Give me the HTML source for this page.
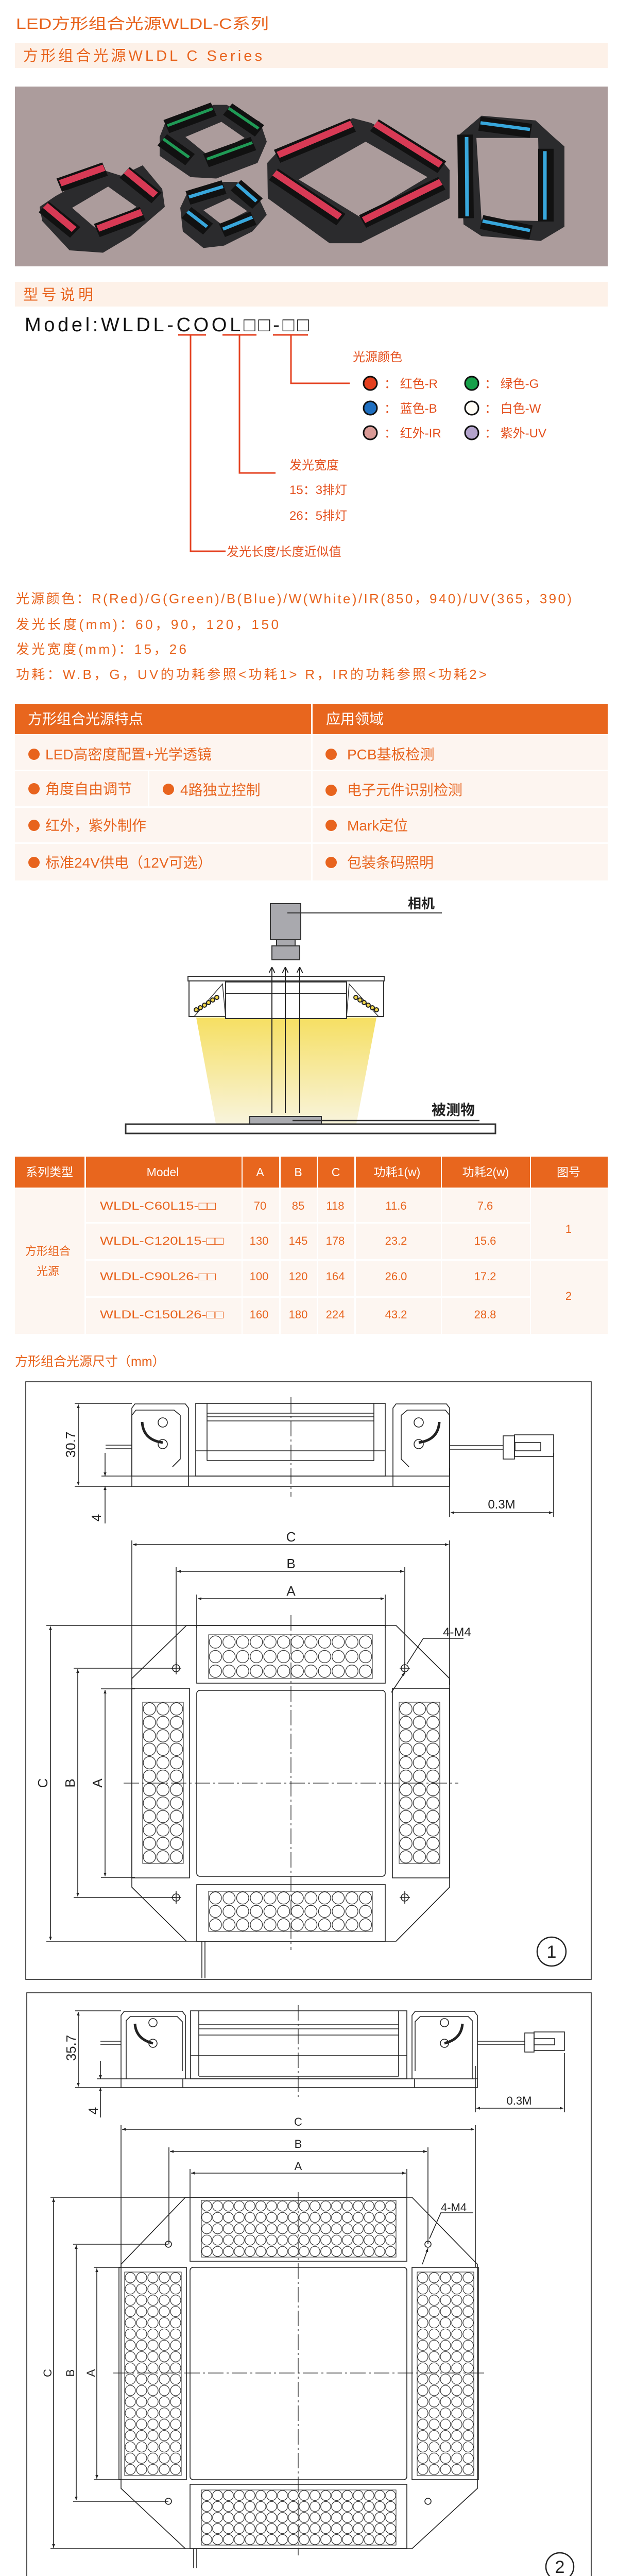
<!DOCTYPE html>
<html><head><meta charset="utf-8">
<style>
html,body{margin:0;padding:0;background:#fff;width:1200px;height:5067px;overflow:hidden;}
svg{display:block;}
text{font-family:"Liberation Sans","Noto Sans CJK SC",sans-serif;}
</style></head><body>
<svg width="1200" height="5067" viewBox="0 0 1200 5067" xmlns="http://www.w3.org/2000/svg">
<defs>
<marker id="ar" viewBox="0 0 10 10" refX="10" refY="5" markerWidth="9" markerHeight="7" orient="auto-start-reverse" markerUnits="userSpaceOnUse"><path d="M0,1 L10,5 L0,9 z" fill="#222"/></marker>
<marker id="ao" viewBox="0 0 10 10" refX="10" refY="5" markerWidth="12" markerHeight="12" orient="auto" markerUnits="userSpaceOnUse"><path d="M0,0 L10,5 L0,10" fill="none" stroke="#222" stroke-width="1.5"/></marker>
<linearGradient id="cone" x1="0" y1="0" x2="0" y2="1"><stop offset="0" stop-color="#f6df62"/><stop offset="1" stop-color="#f8f4dc"/></linearGradient>
<pattern id="g1h" x="405" y="3173" width="26.5" height="28.3" patternUnits="userSpaceOnUse"><circle cx="13.25" cy="14.15" r="12" fill="#fff" stroke="#333" stroke-width="1.3"/></pattern>
<pattern id="g1hb" x="405" y="3671" width="26.5" height="26" patternUnits="userSpaceOnUse"><circle cx="13.25" cy="13" r="11.8" fill="#fff" stroke="#333" stroke-width="1.3"/></pattern>
<pattern id="g1v" x="277" y="3304" width="26.3" height="26.1" patternUnits="userSpaceOnUse"><circle cx="13.15" cy="13.05" r="12" fill="#fff" stroke="#333" stroke-width="1.3"/></pattern>
<pattern id="g1vr" x="775" y="3304" width="26.3" height="26.1" patternUnits="userSpaceOnUse"><circle cx="13.15" cy="13.05" r="12" fill="#fff" stroke="#333" stroke-width="1.3"/></pattern>
<pattern id="g2h" x="391" y="4271" width="21" height="22" patternUnits="userSpaceOnUse"><circle cx="10.5" cy="11" r="9.8" fill="#fff" stroke="#333" stroke-width="1.2"/></pattern>
<pattern id="g2hb" x="391" y="4833" width="21" height="21.4" patternUnits="userSpaceOnUse"><circle cx="10.5" cy="10.7" r="9.8" fill="#fff" stroke="#333" stroke-width="1.2"/></pattern>
<pattern id="g2v" x="242" y="4410" width="22" height="21.9" patternUnits="userSpaceOnUse"><circle cx="11" cy="10.95" r="10" fill="#fff" stroke="#333" stroke-width="1.2"/></pattern>
<pattern id="g2vr" x="810" y="4410" width="22" height="21.9" patternUnits="userSpaceOnUse"><circle cx="11" cy="10.95" r="10" fill="#fff" stroke="#333" stroke-width="1.2"/></pattern>
</defs>

<!-- Titles -->
<text x="31" y="56" font-size="29" fill="#e8641e" textLength="491" lengthAdjust="spacingAndGlyphs">LED方形组合光源WLDL-C系列</text>
<rect x="29" y="83" width="1151" height="49" fill="#fdf1e8"/>
<text x="45" y="118" font-size="29" fill="#e8641e" textLength="464" lengthAdjust="spacing">方形组合光源WLDL C Series</text>

<!-- Photo -->
<rect x="29" y="168" width="1151" height="349" fill="#ac9c9c"/>
<g transform="scale(1,0.9168)">
<g fill="#2b2b2d">
<polygon points="77,438 108,415 200,360 235,372 277,350 315,400 320,438 254,500 200,535 135,530 82,468"/>
<polygon points="310,290 320,262 415,222 440,222 505,258 518,300 500,345 420,378 370,375 310,330"/>
<polygon points="350,440 365,405 435,385 460,385 505,425 518,455 490,490 435,520 395,525 355,490"/>
<polygon points="519,345 540,320 685,250 720,260 850,330 873,360 873,420 700,515 640,515 520,420"/>
<polygon points="892,285 935,245 1040,255 1075,290 1096,310 1096,480 1050,510 935,500 900,475"/>
</g>
<g fill="#ac9c9c">
<polygon points="140,440 210,395 265,438 193,490"/>
<polygon points="360,290 430,258 475,292 405,330"/>
<polygon points="395,445 445,420 480,447 430,475"/>
<polygon points="580,380 710,300 830,375 700,460"/>
<polygon points="925,292 1045,292 1048,468 935,465"/>
</g>
<g stroke-linecap="butt" fill="none">
<g stroke="#111" stroke-width="30">
<line x1="115" y1="392" x2="204" y2="358"/><line x1="242" y1="365" x2="304" y2="419"/><line x1="85" y1="438" x2="146" y2="492"/><line x1="188" y1="488" x2="277" y2="452"/>
<line x1="323" y1="268" x2="415" y2="231"/><line x1="442" y1="231" x2="504" y2="277"/><line x1="315" y1="296" x2="369" y2="338"/><line x1="400" y1="340" x2="492" y2="304"/>
<line x1="365" y1="419" x2="435" y2="396"/><line x1="458" y1="392" x2="500" y2="431"/><line x1="362" y1="450" x2="404" y2="485"/><line x1="431" y1="488" x2="492" y2="462"/>
<line x1="538" y1="331" x2="685" y2="265"/><line x1="727" y1="265" x2="858" y2="354"/><line x1="531" y1="369" x2="662" y2="465"/><line x1="704" y1="469" x2="858" y2="388"/>
<line x1="931" y1="262" x2="1031" y2="277"/><line x1="903" y1="285" x2="905" y2="462"/><line x1="1060" y1="315" x2="1060" y2="469"/><line x1="935" y1="470" x2="1031" y2="492"/>
</g>
<g stroke="#d83a55" stroke-width="14">
<line x1="117" y1="388" x2="202" y2="355"/><line x1="245" y1="362" x2="302" y2="413"/><line x1="88" y1="435" x2="144" y2="486"/><line x1="190" y1="484" x2="275" y2="449"/>
<line x1="540" y1="328" x2="683" y2="262"/><line x1="729" y1="262" x2="856" y2="349"/><line x1="533" y1="366" x2="660" y2="459"/><line x1="706" y1="466" x2="856" y2="385"/>
</g>
<g stroke="#1f9a55" stroke-width="6">
<line x1="325" y1="266" x2="413" y2="230"/><line x1="444" y1="229" x2="502" y2="272"/><line x1="317" y1="294" x2="367" y2="333"/><line x1="402" y1="337" x2="490" y2="302"/>
</g>
<g stroke="#38a7dc" stroke-width="7">
<line x1="367" y1="417" x2="433" y2="395"/><line x1="460" y1="390" x2="498" y2="426"/><line x1="364" y1="448" x2="402" y2="480"/><line x1="433" y1="485" x2="490" y2="460"/>
<line x1="933" y1="260" x2="1029" y2="274"/><line x1="906" y1="290" x2="907" y2="458"/><line x1="1058" y1="320" x2="1058" y2="465"/><line x1="937" y1="468" x2="1029" y2="488"/>
</g>
</g>
</g>

<!-- 型号说明 -->
<rect x="29" y="547" width="1151" height="48" fill="#fdf1e8"/>
<text x="45" y="582" font-size="29" fill="#e8641e" textLength="136" lengthAdjust="spacing">型号说明</text>
<text x="48" y="643" font-size="38" fill="#111" textLength="552" lengthAdjust="spacing">Model:WLDL-COOL□□-□□</text>
<g stroke="#e4401f" stroke-width="3" fill="none">
<line x1="346" y1="650" x2="400" y2="650"/><line x1="432" y1="650" x2="498" y2="650"/><line x1="530" y1="650" x2="598" y2="650"/>
<polyline points="370,650 370,1070 438,1070"/>
<polyline points="465,650 465,918 535,918"/>
<polyline points="565,650 565,744 679,744"/>
</g>
<g font-size="24" fill="#e4501e">
<text x="685" y="701">光源颜色</text>
<text x="746" y="753">：  红色-R</text><text x="941" y="753">：  绿色-G</text>
<text x="746" y="801">：  蓝色-B</text><text x="941" y="801">：  白色-W</text>
<text x="746" y="849">：  红外-IR</text><text x="941" y="849">：  紫外-UV</text>
<text x="562" y="911">发光宽度</text>
<text x="562" y="959">15：3排灯</text>
<text x="562" y="1009">26：5排灯</text>
<text x="440" y="1079">发光长度/长度近似值</text>
</g>
<g stroke="#111" stroke-width="3">
<circle cx="719" cy="744" r="13" fill="#e4401f"/><circle cx="916" cy="744" r="13" fill="#17a04a"/>
<circle cx="719" cy="792" r="13" fill="#1f6fc0"/><circle cx="916" cy="792" r="13" fill="#fffdf6"/>
<circle cx="719" cy="840" r="13" fill="#d99a96"/><circle cx="916" cy="840" r="13" fill="#b3a3cc"/>
</g>

<!-- specs -->
<g font-size="26" fill="#e8641e">
<text x="31" y="1171" textLength="1079" lengthAdjust="spacing">光源颜色：R(Red)/G(Green)/B(Blue)/W(White)/IR(850，940)/UV(365，390)</text>
<text x="31" y="1221" textLength="510" lengthAdjust="spacing">发光长度(mm)：60，90，120，150</text>
<text x="31" y="1269" textLength="331" lengthAdjust="spacing">发光宽度(mm)：15，26</text>
<text x="31" y="1318" textLength="914" lengthAdjust="spacing">功耗：W.B，G，UV的功耗参照&lt;功耗1&gt;   R，IR的功耗参照&lt;功耗2&gt;</text>
</g>

<!-- features table -->
<rect x="29" y="1366" width="575" height="59" fill="#e8661e"/>
<rect x="607" y="1366" width="573" height="59" fill="#e8661e"/>
<text x="54" y="1405" font-size="28" fill="#fff">方形组合光源特点</text>
<text x="633" y="1405" font-size="28" fill="#fff">应用领域</text>
<g fill="#fdf5f0">
<rect x="29" y="1427" width="575" height="67"/><rect x="607" y="1427" width="573" height="67"/>
<rect x="29" y="1497" width="258" height="68"/><rect x="290" y="1497" width="314" height="68"/><rect x="607" y="1497" width="573" height="68"/>
<rect x="29" y="1568" width="575" height="67"/><rect x="607" y="1568" width="573" height="67"/>
<rect x="29" y="1638" width="575" height="71"/><rect x="607" y="1638" width="573" height="71"/>
</g>
<g fill="#e8641e">
<circle cx="66" cy="1464" r="11"/><circle cx="643" cy="1464" r="11"/>
<circle cx="66" cy="1531" r="11"/><circle cx="327" cy="1532" r="11"/><circle cx="643" cy="1534" r="11"/>
<circle cx="66" cy="1602" r="11"/><circle cx="643" cy="1602" r="11"/>
<circle cx="66" cy="1674" r="11"/><circle cx="643" cy="1674" r="11"/>
</g>
<g font-size="28" fill="#e8641e">
<text x="88" y="1474">LED高密度配置+光学透镜</text><text x="674" y="1474">PCB基板检测</text>
<text x="88" y="1541">角度自由调节</text><text x="350" y="1543">4路独立控制</text><text x="674" y="1543">电子元件识别检测</text>
<text x="88" y="1612">红外，紫外制作</text><text x="674" y="1612">Mark定位</text>
<text x="88" y="1684">标准24V供电（12V可选）</text><text x="674" y="1684">包装条码照明</text>
</g>

<!-- camera diagram -->
<polygon points="381,1975 731,1975 692,2181 419,2181" fill="url(#cone)"/>
<rect x="525" y="1754" width="59" height="70" fill="#a9a9ae" stroke="#333" stroke-width="2"/>
<rect x="537" y="1824" width="36" height="12" fill="#a9a9ae" stroke="#333" stroke-width="2"/>
<rect x="528" y="1836" width="54" height="27" fill="#a9a9ae" stroke="#333" stroke-width="2"/>
<line x1="558" y1="1772" x2="858" y2="1772" stroke="#333" stroke-width="2"/>
<text x="792" y="1763" font-size="26" font-weight="bold" fill="#222">相机</text>
<rect x="365" y="1895" width="381" height="9" fill="#fff" stroke="#333" stroke-width="2"/>
<rect x="367" y="1904" width="378" height="69" fill="#fff" stroke="#333" stroke-width="2"/>
<rect x="438" y="1906" width="235" height="71" fill="#fff" stroke="#333" stroke-width="2"/>
<line x1="438" y1="1928" x2="673" y2="1928" stroke="#333" stroke-width="2"/>
<polygon points="377,1973 438,1973 432,1910" fill="#fff" stroke="#333" stroke-width="1.5"/>
<polygon points="673,1973 735,1973 678,1910" fill="#fff" stroke="#333" stroke-width="1.5"/>
<g fill="#f3d84a" stroke="#222" stroke-width="2">
<circle cx="381" cy="1960" r="4"/><circle cx="389" cy="1956" r="4"/><circle cx="397" cy="1951" r="4"/><circle cx="405" cy="1946" r="4"/><circle cx="413" cy="1941" r="4"/><circle cx="421" cy="1936" r="4"/>
<circle cx="731" cy="1960" r="4"/><circle cx="723" cy="1956" r="4"/><circle cx="715" cy="1951" r="4"/><circle cx="707" cy="1946" r="4"/><circle cx="699" cy="1941" r="4"/><circle cx="691" cy="1936" r="4"/>
</g>
<g stroke="#222" stroke-width="2" fill="none">
<line x1="528" y1="2160" x2="528" y2="1877" marker-end="url(#ao)"/>
<line x1="554" y1="2160" x2="554" y2="1877" marker-end="url(#ao)"/>
<line x1="582" y1="2160" x2="582" y2="1877" marker-end="url(#ao)"/>
</g>
<rect x="485" y="2167" width="139" height="15" fill="#aaabb0" stroke="#333" stroke-width="2"/>
<rect x="244" y="2182" width="718" height="18" fill="#fff" stroke="#333" stroke-width="3"/>
<line x1="568" y1="2175" x2="931" y2="2175" stroke="#333" stroke-width="2.5"/>
<text x="838" y="2164" font-size="28" font-weight="bold" fill="#222">被测物</text>

<!-- model table -->
<g fill="#e8661e">
<rect x="29" y="2245" width="135" height="60"/><rect x="167" y="2245" width="302" height="60"/>
<rect x="471" y="2245" width="71" height="60"/><rect x="545" y="2245" width="70" height="60"/>
<rect x="617" y="2245" width="71" height="60"/><rect x="691" y="2245" width="165" height="60"/>
<rect x="858" y="2245" width="171" height="60"/><rect x="1031" y="2245" width="149" height="60"/>
</g>
<g fill="#fdf6f1">
<rect x="29" y="2307" width="135" height="282"/>
<rect x="1031" y="2307" width="149" height="137"/><rect x="1031" y="2447" width="149" height="142"/>
<rect x="167" y="2307" width="302" height="65"/><rect x="471" y="2307" width="71" height="65"/><rect x="545" y="2307" width="70" height="65"/><rect x="617" y="2307" width="71" height="65"/><rect x="691" y="2307" width="165" height="65"/><rect x="858" y="2307" width="171" height="65"/>
<rect x="167" y="2375" width="302" height="69"/><rect x="471" y="2375" width="71" height="69"/><rect x="545" y="2375" width="70" height="69"/><rect x="617" y="2375" width="71" height="69"/><rect x="691" y="2375" width="165" height="69"/><rect x="858" y="2375" width="171" height="69"/>
<rect x="167" y="2447" width="302" height="69"/><rect x="471" y="2447" width="71" height="69"/><rect x="545" y="2447" width="70" height="69"/><rect x="617" y="2447" width="71" height="69"/><rect x="691" y="2447" width="165" height="69"/><rect x="858" y="2447" width="171" height="69"/>
<rect x="167" y="2519" width="302" height="70"/><rect x="471" y="2519" width="71" height="70"/><rect x="545" y="2519" width="70" height="70"/><rect x="617" y="2519" width="71" height="70"/><rect x="691" y="2519" width="165" height="70"/><rect x="858" y="2519" width="171" height="70"/>
</g>
<g font-size="23" fill="#fff" text-anchor="middle">
<text x="96" y="2283">系列类型</text>
<text x="316" y="2283">Model</text>
<text x="505" y="2283">A</text>
<text x="579" y="2283">B</text>
<text x="652" y="2283">C</text>
<text x="771" y="2283">功耗1(w)</text>
<text x="943" y="2283">功耗2(w)</text>
<text x="1104" y="2283">图号</text>
</g>
<g font-size="22" fill="#e8641e" text-anchor="middle">
<text x="93" y="2436">方形组合</text>
<text x="93" y="2475">光源</text>
<text x="1104" y="2393">1</text>
<text x="1104" y="2523">2</text>
</g>
<g font-size="22" fill="#e8641e">
<text x="194" y="2348" textLength="225" lengthAdjust="spacingAndGlyphs">WLDL-C60L15-□□</text>
<text x="194" y="2416" textLength="240" lengthAdjust="spacingAndGlyphs">WLDL-C120L15-□□</text>
<text x="194" y="2485" textLength="225" lengthAdjust="spacingAndGlyphs">WLDL-C90L26-□□</text>
<text x="194" y="2559" textLength="240" lengthAdjust="spacingAndGlyphs">WLDL-C150L26-□□</text>
</g>
<g font-size="22" fill="#e8641e" text-anchor="middle">
<text x="505" y="2348">70</text><text x="579" y="2348">85</text><text x="651" y="2348">118</text><text x="769" y="2348">11.6</text><text x="942" y="2348">7.6</text>
<text x="503" y="2416">130</text><text x="579" y="2416">145</text><text x="651" y="2416">178</text><text x="769" y="2416">23.2</text><text x="942" y="2416">15.6</text>
<text x="503" y="2485">100</text><text x="579" y="2485">120</text><text x="651" y="2485">164</text><text x="769" y="2485">26.0</text><text x="942" y="2485">17.2</text>
<text x="503" y="2559">160</text><text x="579" y="2559">180</text><text x="651" y="2559">224</text><text x="769" y="2559">43.2</text><text x="942" y="2559">28.8</text>
</g>

<text x="29" y="2651" font-size="25" fill="#e8641e">方形组合光源尺寸（mm）</text>

<!-- Drawing 1 -->
<g stroke="#222" stroke-width="1.6" fill="none">
<rect x="50" y="2682" width="1098" height="1160"/>
<line x1="145" y1="2724" x2="256" y2="2724"/><line x1="145" y1="2885" x2="256" y2="2885"/>
<line x1="152" y1="2726" x2="152" y2="2883" marker-start="url(#ar)" marker-end="url(#ar)"/>
<line x1="197" y1="2865" x2="256" y2="2865"/>
<line x1="204" y1="2820" x2="204" y2="2865" marker-end="url(#ar)"/>
<line x1="204" y1="2957" x2="204" y2="2885" marker-end="url(#ar)"/>
<path d="M256,2865 V2733 l6,-8 H360 l6,8 V2865"/>
<path d="M256,2865 V2747 l8,-10 H338 l12,10 V2832 l-15,15"/>
<path d="M873,2865 V2733 l-6,-8 H769 l-6,8 V2865"/>
<path d="M873,2865 V2747 l-8,-10 H791 l-12,10 V2832 l15,15"/>
<rect x="380" y="2724" width="368" height="141"/>
<line x1="402" y1="2724" x2="402" y2="2835"/><line x1="726" y1="2724" x2="726" y2="2835"/>
<line x1="402" y1="2743" x2="726" y2="2743"/><line x1="402" y1="2750" x2="726" y2="2750"/><line x1="402" y1="2758" x2="726" y2="2758"/>
<line x1="380" y1="2816" x2="748" y2="2816"/><line x1="402" y1="2835" x2="726" y2="2835"/>
<rect x="256" y="2865" width="617" height="20"/>
<line x1="366" y1="2865" x2="366" y2="2885"/><line x1="763" y1="2865" x2="763" y2="2885"/>
<path d="M276,2760 q2,35 40,40" stroke-width="5"/>
<path d="M853,2760 q-2,35 -40,40" stroke-width="5"/>
<circle cx="316" cy="2761" r="9"/><circle cx="316" cy="2803" r="9"/><circle cx="813" cy="2761" r="9"/><circle cx="813" cy="2803" r="9"/>
<line x1="205" y1="2805" x2="256" y2="2805"/><line x1="205" y1="2812" x2="256" y2="2812"/>
<line x1="873" y1="2806" x2="977" y2="2806"/><line x1="873" y1="2813" x2="977" y2="2813"/>
<rect x="977" y="2787" width="22" height="45"/><rect x="999" y="2785" width="76" height="42"/><rect x="1000" y="2800" width="50" height="16"/>
<line x1="873" y1="2850" x2="873" y2="2945"/><line x1="1075" y1="2820" x2="1075" y2="2945"/>
<line x1="875" y1="2936" x2="1073" y2="2936" marker-start="url(#ar)" marker-end="url(#ar)"/>
<line x1="565" y1="2712" x2="565" y2="2905" stroke-dasharray="30,6,4,6" stroke-width="1.3"/>
<line x1="256" y1="2990" x2="256" y2="3270"/><line x1="873" y1="2990" x2="873" y2="3270"/>
<line x1="258" y1="2998" x2="871" y2="2998" marker-start="url(#ar)" marker-end="url(#ar)"/>
<line x1="342" y1="3042" x2="342" y2="3238"/><line x1="786" y1="3042" x2="786" y2="3238"/>
<line x1="344" y1="3050" x2="784" y2="3050" marker-start="url(#ar)" marker-end="url(#ar)"/>
<line x1="382" y1="3095" x2="382" y2="3160"/><line x1="748" y1="3095" x2="748" y2="3160"/>
<line x1="384" y1="3103" x2="746" y2="3103" marker-start="url(#ar)" marker-end="url(#ar)"/>
<polygon points="362,3155 769,3155 873,3258 873,3663 769,3768 362,3768 256,3663 256,3258"/>
<rect x="382" y="3155" width="366" height="112"/>
<rect x="405" y="3173" width="318" height="85" fill="url(#g1h)" stroke-width="1"/>
<rect x="382" y="3658" width="366" height="110"/>
<rect x="405" y="3671" width="318" height="78" fill="url(#g1hb)" stroke-width="1"/>
<rect x="256" y="3277" width="112" height="368"/>
<rect x="277" y="3304" width="79" height="313" fill="url(#g1v)" stroke-width="1"/>
<rect x="762" y="3277" width="111" height="368"/>
<rect x="775" y="3304" width="79" height="313" fill="url(#g1vr)" stroke-width="1"/>
<rect x="382" y="3281" width="366" height="361" rx="6"/>
<line x1="565" y1="3135" x2="565" y2="3785" stroke-dasharray="30,6,4,6" stroke-width="1.3"/>
<line x1="240" y1="3461" x2="890" y2="3461" stroke-dasharray="30,6,4,6" stroke-width="1.3"/>
<line x1="90" y1="3155" x2="382" y2="3155"/><line x1="90" y1="3768" x2="362" y2="3768"/>
<line x1="98" y1="3157" x2="98" y2="3766" marker-start="url(#ar)" marker-end="url(#ar)"/>
<line x1="143" y1="3238" x2="342" y2="3238"/><line x1="143" y1="3683" x2="342" y2="3683"/>
<line x1="151" y1="3240" x2="151" y2="3681" marker-start="url(#ar)" marker-end="url(#ar)"/>
<line x1="196" y1="3278" x2="262" y2="3278"/><line x1="196" y1="3644" x2="262" y2="3644"/>
<line x1="204" y1="3280" x2="204" y2="3642" marker-start="url(#ar)" marker-end="url(#ar)"/>
<circle cx="342" cy="3238" r="7"/><circle cx="786" cy="3238" r="7"/><circle cx="342" cy="3683" r="7"/><circle cx="786" cy="3683" r="7"/>
<line x1="332" y1="3238" x2="352" y2="3238"/><line x1="342" y1="3226" x2="342" y2="3250"/>
<line x1="776" y1="3238" x2="796" y2="3238"/><line x1="786" y1="3226" x2="786" y2="3250"/>
<line x1="332" y1="3683" x2="352" y2="3683"/><line x1="342" y1="3671" x2="342" y2="3695"/>
<line x1="776" y1="3683" x2="796" y2="3683"/><line x1="786" y1="3671" x2="786" y2="3695"/>
<polyline points="900,3180 822,3180 790,3230" />
<line x1="760" y1="3285" x2="786" y2="3246" marker-end="url(#ar)"/>
<line x1="392" y1="3768" x2="392" y2="3840"/><line x1="398" y1="3768" x2="398" y2="3840"/>
<circle cx="1071" cy="3788" r="28" stroke-width="2.5"/>
</g>
<g font-size="26" fill="#222">
<text transform="translate(146,2804) rotate(-90)" text-anchor="middle">30.7</text>
<text transform="translate(196,2946) rotate(-90)" text-anchor="middle">4</text>
<text x="974" y="2928" text-anchor="middle" font-size="24">0.3M</text>
<text x="565" y="2992" text-anchor="middle">C</text>
<text x="565" y="3044" text-anchor="middle">B</text>
<text x="565" y="3097" text-anchor="middle">A</text>
<text x="860" y="3176" font-size="24">4-M4</text>
<text transform="translate(92,3461) rotate(-90)" text-anchor="middle">C</text>
<text transform="translate(145,3461) rotate(-90)" text-anchor="middle">B</text>
<text transform="translate(198,3461) rotate(-90)" text-anchor="middle">A</text>
<text x="1071" y="3800" text-anchor="middle" font-size="34">1</text>
</g>

<!-- Drawing 2 -->
<g stroke="#222" stroke-width="1.6" fill="none">
<rect x="52" y="3868" width="1096" height="1159"/>
<line x1="67" y1="5015" x2="1120" y2="5015" stroke="#ccc" stroke-width="2"/>
<line x1="146" y1="3903" x2="235" y2="3903"/><line x1="146" y1="4052" x2="235" y2="4052"/>
<line x1="152" y1="3905" x2="152" y2="4050" marker-start="url(#ar)" marker-end="url(#ar)"/>
<line x1="188" y1="4035" x2="235" y2="4035"/>
<line x1="195" y1="4000" x2="195" y2="4035" marker-end="url(#ar)"/>
<line x1="195" y1="4110" x2="195" y2="4052" marker-end="url(#ar)"/>
<path d="M235,4035 V3912 l6,-8 H354 l6,8 V4035"/>
<path d="M245,4035 V3922 l8,-8 H344 l10,10 V4020"/>
<path d="M927,4035 V3912 l-6,-8 H806 l-6,8 V4035"/>
<path d="M917,4035 V3922 l-8,-8 H816 l-10,10 V4020"/>
<rect x="370" y="3903" width="420" height="132"/>
<line x1="386" y1="3903" x2="386" y2="4030"/><line x1="774" y1="3903" x2="774" y2="4030"/>
<line x1="386" y1="3930" x2="774" y2="3930"/><line x1="386" y1="3938" x2="774" y2="3938"/><line x1="386" y1="3950" x2="774" y2="3950"/>
<line x1="370" y1="3990" x2="790" y2="3990"/><line x1="386" y1="4030" x2="774" y2="4030"/>
<rect x="235" y="4035" width="692" height="17"/>
<line x1="355" y1="4035" x2="355" y2="4052"/><line x1="805" y1="4035" x2="805" y2="4052"/>
<path d="M262,3928 q2,30 35,38" stroke-width="5"/>
<path d="M898,3928 q-2,30 -35,38" stroke-width="5"/>
<circle cx="297" cy="3926" r="8"/><circle cx="297" cy="3966" r="8"/><circle cx="863" cy="3926" r="8"/><circle cx="863" cy="3966" r="8"/>
<line x1="195" y1="3962" x2="235" y2="3962"/><line x1="195" y1="3968" x2="235" y2="3968"/>
<line x1="927" y1="3962" x2="1019" y2="3962"/><line x1="927" y1="3968" x2="1019" y2="3968"/>
<rect x="1019" y="3946" width="18" height="37"/><rect x="1037" y="3944" width="59" height="36"/><rect x="1037" y="3957" width="40" height="12"/>
<line x1="923" y1="4010" x2="923" y2="4100"/><line x1="1096" y1="3985" x2="1096" y2="4100"/>
<line x1="925" y1="4092" x2="1094" y2="4092" marker-start="url(#ar)" marker-end="url(#ar)"/>
<line x1="579" y1="3892" x2="579" y2="4070" stroke-dasharray="30,6,4,6" stroke-width="1.3"/>
<line x1="235" y1="4125" x2="235" y2="4400"/><line x1="923" y1="4125" x2="923" y2="4400"/>
<line x1="237" y1="4133" x2="921" y2="4133" marker-start="url(#ar)" marker-end="url(#ar)"/>
<line x1="328" y1="4168" x2="328" y2="4356"/><line x1="831" y1="4168" x2="831" y2="4356"/>
<line x1="330" y1="4176" x2="829" y2="4176" marker-start="url(#ar)" marker-end="url(#ar)"/>
<line x1="369" y1="4210" x2="369" y2="4265"/><line x1="790" y1="4210" x2="790" y2="4265"/>
<line x1="371" y1="4218" x2="788" y2="4218" marker-start="url(#ar)" marker-end="url(#ar)"/>
<polygon points="360,4265 800,4265 927,4395 927,4830 800,4947 360,4947 235,4830 235,4395"/>
<rect x="369" y="4265" width="421" height="124"/>
<rect x="391" y="4271" width="378" height="110" fill="url(#g2h)" stroke-width="1"/>
<rect x="369" y="4822" width="421" height="125"/>
<rect x="391" y="4833" width="378" height="107" fill="url(#g2hb)" stroke-width="1"/>
<rect x="231" y="4401" width="131" height="412"/>
<rect x="242" y="4410" width="110" height="395" fill="url(#g2v)" stroke-width="1"/>
<rect x="800" y="4401" width="129" height="412"/>
<rect x="810" y="4410" width="110" height="395" fill="url(#g2vr)" stroke-width="1"/>
<rect x="369" y="4401" width="421" height="412" rx="6"/>
<line x1="579" y1="4255" x2="579" y2="4960" stroke-dasharray="30,6,4,6" stroke-width="1.3"/>
<line x1="220" y1="4606" x2="940" y2="4606" stroke-dasharray="30,6,4,6" stroke-width="1.3"/>
<line x1="98" y1="4265" x2="369" y2="4265"/><line x1="98" y1="4947" x2="360" y2="4947"/>
<line x1="104" y1="4267" x2="104" y2="4945" marker-start="url(#ar)" marker-end="url(#ar)"/>
<line x1="142" y1="4356" x2="327" y2="4356"/><line x1="142" y1="4855" x2="327" y2="4855"/>
<line x1="148" y1="4358" x2="148" y2="4853" marker-start="url(#ar)" marker-end="url(#ar)"/>
<line x1="182" y1="4401" x2="235" y2="4401"/><line x1="182" y1="4813" x2="235" y2="4813"/>
<line x1="188" y1="4403" x2="188" y2="4811" marker-start="url(#ar)" marker-end="url(#ar)"/>
<circle cx="327" cy="4356" r="6"/><circle cx="831" cy="4356" r="6"/><circle cx="327" cy="4855" r="6"/><circle cx="831" cy="4855" r="6"/>
<polyline points="919,4295 856,4295 834,4345"/>
<line x1="820" y1="4395" x2="831" y2="4364" marker-end="url(#ar)"/>
<line x1="376" y1="4947" x2="376" y2="4985"/><line x1="382" y1="4947" x2="382" y2="4985"/>
<circle cx="1087" cy="4982" r="27" stroke-width="2.5"/>
</g>
<g font-size="26" fill="#222">
<text transform="translate(147,3975) rotate(-90)" text-anchor="middle">35.7</text>
<text transform="translate(190,4097) rotate(-90)" text-anchor="middle">4</text>
<text x="1008" y="4085" text-anchor="middle" font-size="22">0.3M</text>
<text x="579" y="4126" text-anchor="middle" font-size="22">C</text>
<text x="579" y="4169" text-anchor="middle" font-size="22">B</text>
<text x="579" y="4212" text-anchor="middle" font-size="22">A</text>
<text x="856" y="4292" font-size="22">4-M4</text>
<text transform="translate(100,4606) rotate(-90)" text-anchor="middle" font-size="22">C</text>
<text transform="translate(144,4606) rotate(-90)" text-anchor="middle" font-size="22">B</text>
<text transform="translate(184,4606) rotate(-90)" text-anchor="middle" font-size="22">A</text>
<text x="1087" y="4994" text-anchor="middle" font-size="34">2</text>
</g>
</svg>
</body></html>
